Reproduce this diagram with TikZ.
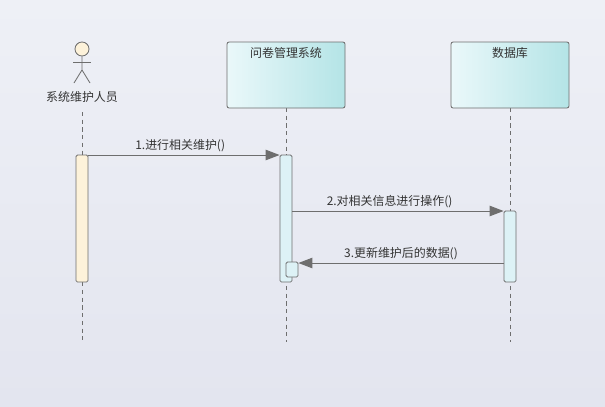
\documentclass[tikz,border=0pt]{standalone}
\usepackage{fontspec}
\setmainfont{Noto Sans CJK SC}
\usetikzlibrary{arrows.meta}
\definecolor{bgtop}{HTML}{EEF0F6}
\definecolor{bgbot}{HTML}{E3E5EF}
\definecolor{linegrey}{HTML}{6E6E6E}
\definecolor{boxl}{HTML}{EAF8FA}
\definecolor{boxr}{HTML}{B4E4E6}
\definecolor{cream}{HTML}{FDF2DA}
\definecolor{actbar}{HTML}{DDF2F6}
\tikzset{
  lbl/.style={font=\fontsize{17}{20}\selectfont, text=black!80},
  lifebox/.style={draw=linegrey, line width=1.2pt, rounded corners=3pt, left color=boxl, right color=boxr, minimum width=59mm, minimum height=33mm, inner sep=0pt},
  bar/.style={draw=linegrey, line width=1.2pt, fill=actbar, rounded corners=2pt},
  lifeline/.style={draw=linegrey, dashed, dash pattern=on 6pt off 5pt, line width=1.2pt},
  msg/.style={draw=linegrey, line width=1.4pt, -{Triangle[length=20pt,width=15pt]}}
}
\begin{document}
\begin{tikzpicture}[x=0.5mm,y=-0.5mm]
    \shade[top color=bgtop, bottom color=bgbot] (0,0) rectangle (605,406);
    \useasboundingbox (0,0) rectangle (605,406);

    % lifelines
    \coordinate (uend) at (82,342);
    \coordinate (send) at (286,342);
    \coordinate (dend) at (510,342);
    \draw[lifeline] (82,112) -- (uend);
    \draw[lifeline] (286,108) -- (send);
    \draw[lifeline] (510,108) -- (dend);

    % actor
    \node[circle, draw=linegrey, line width=1.2pt, fill=cream, minimum size=7mm, inner sep=0pt] (head) at (82,49) {};
    \draw[linegrey, line width=1.2pt] (head.south) -- (82,70) -- (74,83);
    \draw[linegrey, line width=1.2pt] (82,70) -- (90,83);
    \draw[linegrey, line width=1.2pt] (73,62) -- (91,62);
    \node[lbl] (user) at (82,97) {系统维护人员};

    % boxes
    \node[lifebox] (sys) at (286,75) {};
    \node[lbl, anchor=north] at (sys.north |- 0,45) {问卷管理系统};
    \node[lifebox] (db) at (510,75) {};
    \node[lbl, anchor=north] at (db.north |- 0,45) {数据库};

    % activations
    \node[bar, fill=cream, minimum width=6mm, minimum height=63.5mm, inner sep=0pt] (ua) at (82,218.5) {};
    \node[bar, minimum width=6mm, minimum height=63.5mm, inner sep=0pt] (sa) at (286,218.5) {};
    \node[bar, minimum width=6mm, minimum height=35.5mm, inner sep=0pt] (da) at (510,246.5) {};
    \node[bar, minimum width=6mm, minimum height=7.5mm, inner sep=0pt] (sb) at (292,269.5) {};

    % messages
    \draw[msg] (ua.east |- 0,155) -- node[lbl, above, pos=0.48] {1.进行相关维护()} (sa.west |- 0,155);
    \draw[msg] (sa.east |- 0,211) -- node[lbl, above, pos=0.46] {2.对相关信息进行操作()} (da.west |- 0,211);
    \draw[msg] (da.west |- 0,263) -- node[lbl, above] {3.更新维护后的数据()} (sb.east |- 0,263);
\end{tikzpicture}
\end{document}
